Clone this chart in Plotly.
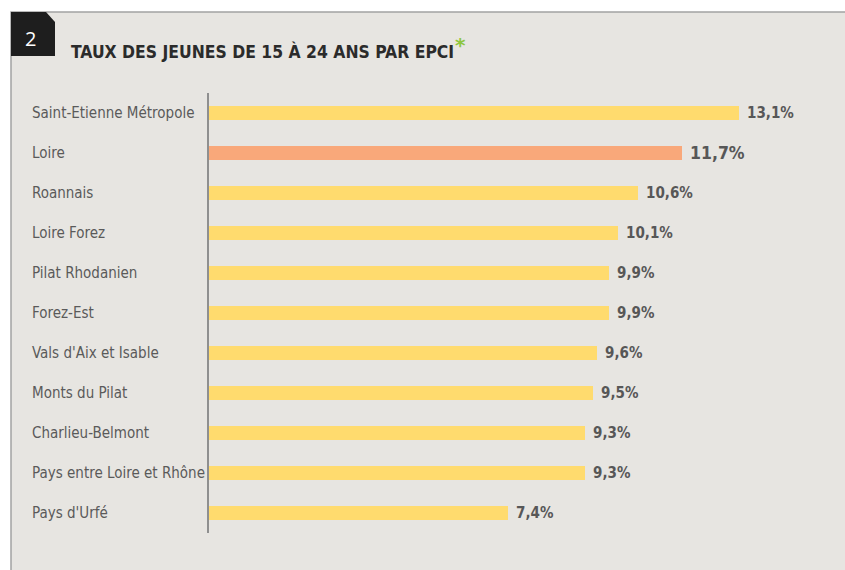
import plotly.graph_objects as go

categories = ["Saint-Etienne Métropole", "Loire", "Roannais", "Loire Forez", "Pilat Rhodanien",
              "Forez-Est", "Vals d'Aix et Isable", "Monts du Pilat", "Charlieu-Belmont",
              "Pays entre Loire et Rhône", "Pays d'Urfé"]
values = [13.1, 11.7, 10.6, 10.1, 9.9, 9.9, 9.6, 9.5, 9.3, 9.3, 7.4]
value_labels = ["13,1%", "11,7%", "10,6%", "10,1%", "9,9%", "9,9%", "9,6%", "9,5%", "9,3%", "9,3%", "7,4%"]
highlight = "Loire"
title = "TAUX DES JEUNES DE 15 À 24 ANS PAR EPCI"

W, H = 845, 570
L, R, T, B = 209, 0, 93, 37
PW, PH = W - L - R, H - T - B
PX_PER_UNIT = 40.45

def px(x):
    return (x - L) / PW

def py(y):
    return (H - B - y) / PH

COND = "DejaVu Sans Condensed, Liberation Sans Narrow, Arial Narrow, sans-serif"

colors = ["#F9A87A" if c == highlight else "#FFDB6E" for c in categories]

fig = go.Figure(go.Bar(
    x=values, y=categories, orientation="h",
    marker=dict(color=colors, line=dict(width=0)),
    width=0.35, hoverinfo="skip",
))

annotations = []
for c, v, t in zip(categories, values, value_labels):
    big = c == highlight
    annotations.append(dict(
        x=v, y=c, xref="x", yref="y", text="<b>%s</b>" % t, showarrow=False,
        xanchor="left", yanchor="middle", xshift=6,
        font=dict(family=COND, size=17.5 if big else 15, color="#575757"),
    ))
    annotations.append(dict(
        x=px(30), y=c, xref="paper", yref="y", text=c, showarrow=False,
        xanchor="left", yanchor="middle",
        font=dict(family=COND, size=15, color="#5A5A5A"),
    ))

annotations.append(dict(
    x=px(69), y=py(52), xref="paper", yref="paper",
    text="<b>%s</b>" % title,
    showarrow=False, xanchor="left", yanchor="middle",
    font=dict(family=COND, size=17.4, color="#2B2B2B"),
))
annotations.append(dict(
    x=px(453), y=py(45), xref="paper", yref="paper", text="<b>*</b>", showarrow=False,
    xanchor="left", yanchor="middle",
    font=dict(family="DejaVu Sans, sans-serif", size=20, color="#8DC63F"),
))
annotations.append(dict(
    x=px(30), y=py(39), xref="paper", yref="paper", text="2", showarrow=False,
    xanchor="center", yanchor="middle",
    font=dict(family="Open Sans, DejaVu Sans, sans-serif", size=20, color="#FFFFFF"),
))

shapes = [
    dict(type="rect", xref="paper", yref="paper", x0=px(11), x1=px(845 + 5), y0=py(12), y1=py(570 + 5),
         fillcolor="#E7E5E1", line=dict(color="#A3A3A3", width=1.5), layer="below"),
    dict(type="path", xref="paper", yref="paper",
         path="M %f,%f L %f,%f L %f,%f L %f,%f L %f,%f Z" % (
             px(11), py(12), px(46), py(12), px(55), py(22), px(55), py(56), px(11), py(56)),
         fillcolor="#1E1E1E", line=dict(width=0), layer="below"),
]

fig.update_layout(
    width=W, height=H,
    margin=dict(l=L, r=R, t=T, b=B, pad=0),
    paper_bgcolor="#FFFFFF", plot_bgcolor="rgba(0,0,0,0)",
    showlegend=False,
    xaxis=dict(range=[0, PW / PX_PER_UNIT], visible=False, fixedrange=True),
    yaxis=dict(autorange="reversed", showticklabels=False, showgrid=False, zeroline=False,
               showline=True, linecolor="#8F8F8F", linewidth=2, ticks="", fixedrange=True),
    annotations=annotations, shapes=shapes,
    bargap=0,
)

fig.write_html("out.html", config={"displayModeBar": False},
               post_script="document.body.style.margin='0';document.body.style.overflow='hidden';")
